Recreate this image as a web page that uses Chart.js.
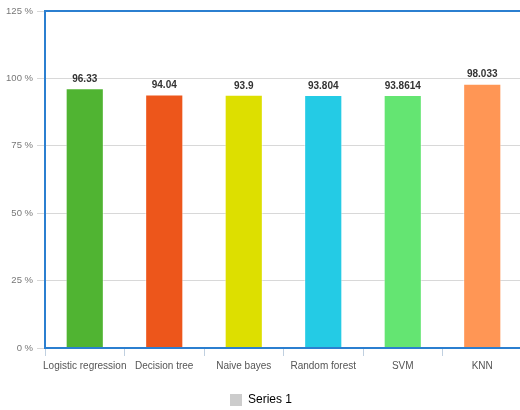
<!DOCTYPE html>
<html>
<head>
<meta charset="utf-8">
<script src="https://cdn.jsdelivr.net/npm/chart.js@4"></script>
<style>
  html, body { margin: 0; padding: 0; background: #fff; overflow: hidden; }
  #wrap { width: 524px; height: 410px; }
</style>
</head>
<body>
<div id="wrap"><canvas id="chart"></canvas></div>
<script>
const categories = ["Logistic regression", "Decision tree", "Naive bayes", "Random forest", "SVM", "KNN"];
const accuracy = [96.33, 94.04, 93.9, 93.804, 93.8614, 98.033];
const barColors = ["#50B432", "#ED561B", "#DDDF00", "#24CBE5", "#64E572", "#FF9655"];
const yTicks = [0, 25, 50, 75, 100, 125];

const sans = '"Liberation Sans", Arial, sans-serif';

// blue frame round the plot + value labels above bars
const framePlugin = {
  id: "frame",
  afterDatasetsDraw(chart) {
    const ctx = chart.ctx;
    const a = chart.chartArea;
    ctx.save();
    ctx.strokeStyle = "#2b7fd0";
    ctx.lineWidth = 2;
    ctx.strokeRect(a.left, a.top, a.right - a.left, a.bottom - a.top);

    ctx.fillStyle = "#333";
    ctx.font = 'bold 10px ' + sans;
    ctx.textAlign = "center";
    ctx.textBaseline = "bottom";
    chart.getDatasetMeta(0).data.forEach((bar, i) => {
      ctx.fillText(String(accuracy[i]), bar.x, bar.y - 4);
    });
    ctx.restore();
  }
};

new Chart(document.getElementById("chart"), {
  type: "bar",
  data: {
    labels: categories,
    datasets: [{
      label: "Series 1",
      data: accuracy,
      backgroundColor: barColors,
      borderColor: "rgba(255,255,255,0.5)",
      borderWidth: 1,
      barPercentage: 0.6,
      categoryPercentage: 0.8
    }]
  },
  options: {
    responsive: true,
    maintainAspectRatio: false,
    animation: false,
    layout: { padding: { top: 11, right: 2, left: 0, bottom: -6 } },
    scales: {
      x: {
        afterFit(scale) { scale.height = 41; },
        grid: {
          offset: true,
          drawOnChartArea: false,
          tickLength: 8,
          color: "#c0d0e0"
        },
        border: { color: "#2b7fd0", width: 2 },
        ticks: {
          color: "#555",
          font: { family: sans, size: 10 },
          padding: 4,
          autoSkip: false,
          maxRotation: 0
        }
      },
      y: {
        min: 0,
        max: 125,
        afterBuildTicks(scale) {
          scale.ticks = yTicks.map(v => ({ value: v }));
        },
        afterFit(scale) { scale.width = 45; },
        grid: { color: "#d8d8d8", tickLength: 8, lineWidth: 1 },
        border: { color: "#2b7fd0", width: 2 },
        ticks: {
          color: "#777",
          font: { family: sans, size: 9.5 },
          padding: 4,
          callback: v => v + " %"
        }
      }
    },
    plugins: {
      tooltip: { enabled: false },
      legend: {
        position: "bottom",
        labels: {
          boxWidth: 12,
          boxHeight: 12,
          padding: 5,
          color: "#555",
          font: { family: sans, size: 12 },
          generateLabels: () => [{
            text: "Series 1",
            fillStyle: "#cccccc",
            strokeStyle: "#cccccc",
            lineWidth: 0,
            hidden: false,
            datasetIndex: 0
          }]
        }
      }
    }
  },
  plugins: [framePlugin]
});
</script>
</body>
</html>
